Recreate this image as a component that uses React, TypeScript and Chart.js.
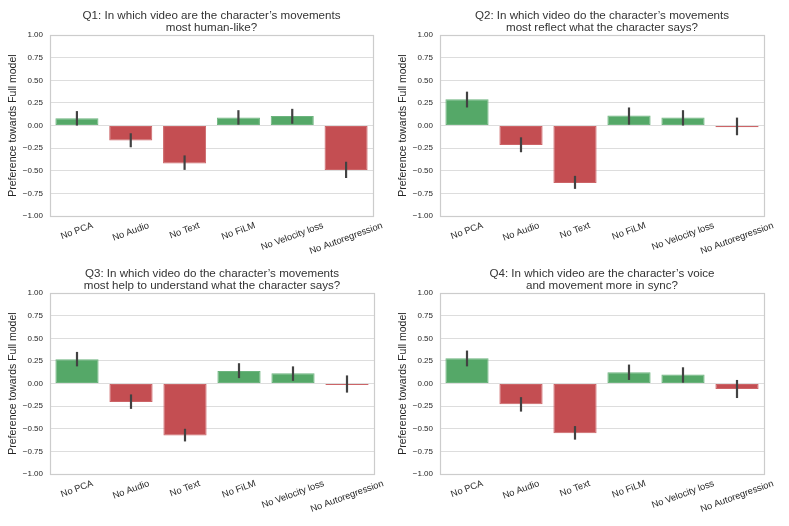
import React, { useEffect, useRef } from 'react';
import { Chart, registerables } from 'chart.js';

Chart.register(...registerables);

const categories = ['No PCA', 'No Audio', 'No Text', 'No FiLM', 'No Velocity loss', 'No Autoregression'];
const yTicks = [-1, -0.75, -0.5, -0.25, 0, 0.25, 0.5, 0.75, 1];

const q1Title = ['Q1: In which video are the character\u2019s movements', 'most human-like?'];
const q1Means = [0.08, -0.165, -0.42, 0.09, 0.105, -0.49];
const q1Low = [0.0, -0.24, -0.49, 0.01, 0.02, -0.58];
const q1High = [0.16, -0.085, -0.33, 0.17, 0.185, -0.4];

const q2Title = ['Q2: In which video do the character\u2019s movements', 'most reflect what the character says?'];
const q2Means = [0.29, -0.215, -0.635, 0.11, 0.09, -0.02];
const q2Low = [0.2, -0.295, -0.7, 0.01, 0.0, -0.107];
const q2High = [0.375, -0.13, -0.556, 0.2, 0.17, 0.088];

const q3Title = ['Q3: In which video do the character\u2019s movements', 'most help to understand what the character says?'];
const q3Means = [0.27, -0.205, -0.575, 0.14, 0.115, -0.015];
const q3Low = [0.19, -0.28, -0.64, 0.06, 0.03, -0.1];
const q3High = [0.35, -0.12, -0.5, 0.225, 0.19, 0.09];

const q4Title = ['Q4: In which video are the character\u2019s voice', 'and movement more in sync?'];
const q4Means = [0.28, -0.23, -0.55, 0.125, 0.1, -0.06];
const q4Low = [0.19, -0.31, -0.62, 0.04, 0.01, -0.16];
const q4High = [0.365, -0.15, -0.47, 0.21, 0.18, 0.04];

const FONT = '"Liberation Sans", Arial, Helvetica, sans-serif';
const TEXT = '#262626';
const GREEN = '#55a868';
const RED = '#c44e52';

interface PanelProps {
  title: string[];
  means: number[];
  low: number[];
  high: number[];
  left: number;
  top: number;
  width: number;
  height: number;
  padRight: number;
  axisHeight: number;
}

function Panel({ title, means, low, high, left, top, width, height, padRight, axisHeight }: PanelProps) {
  const canvasRef = useRef<HTMLCanvasElement | null>(null);

  useEffect(() => {
    const ctx = canvasRef.current;
    if (!ctx) return;

    // frame around the plot area, like the seaborn whitegrid spines
    const framePlugin = {
      id: 'frame',
      beforeDatasetsDraw(chart: any) {
        const { ctx: c, chartArea: a } = chart;
        c.save();
        c.strokeStyle = '#cccccc';
        c.lineWidth = 1.2;
        c.strokeRect(Math.round(a.left) + 0.5, Math.round(a.top) + 0.5, Math.round(a.right - a.left), Math.round(a.bottom - a.top));
        c.restore();
      },
    };

    const errorBarPlugin = {
      id: 'errorBars',
      afterDatasetsDraw(chart: any) {
        const { ctx: c, scales } = chart;
        c.save();
        c.strokeStyle = '#424242';
        c.lineWidth = 2.2;
        low.forEach((lo, i) => {
          const x = scales.x.getPixelForValue(i);
          c.beginPath();
          c.moveTo(x, scales.y.getPixelForValue(lo));
          c.lineTo(x, scales.y.getPixelForValue(high[i]));
          c.stroke();
        });
        c.restore();
      },
    };

    // rotated, centred category labels (matplotlib style)
    const xLabelPlugin = {
      id: 'xLabels',
      afterDraw(chart: any) {
        const { ctx: c, chartArea, scales } = chart;
        const ang = (20 * Math.PI) / 180;
        c.save();
        c.font = `9.3px ${FONT}`;
        c.fillStyle = TEXT;
        c.textAlign = 'center';
        c.textBaseline = 'middle';
        (chart.data.labels as string[]).forEach((label, i) => {
          const w = c.measureText(label).width;
          const bh = w * Math.sin(ang) + 9 * Math.cos(ang);
          const x = scales.x.getPixelForValue(i);
          const y = chartArea.bottom + 5 + bh / 2;
          c.save();
          c.translate(x, y);
          c.rotate(-ang);
          c.fillText(label, 0, 0);
          c.restore();
        });
        c.restore();
      },
    };

    const chart = new Chart(ctx, {
      type: 'bar',
      data: {
        labels: categories,
        datasets: [
          {
            data: means,
            backgroundColor: means.map((v) => (v >= 0 ? GREEN : RED)),
            borderColor: means.map((v) => (v >= 0 ? '#6db47e' : '#cc6467')),
            borderWidth: 1,
            borderSkipped: false,
            barPercentage: 0.8,
            categoryPercentage: 1,
          },
        ],
      },
      options: {
        animation: false,
        responsive: true,
        maintainAspectRatio: false,
        layout: { padding: { top: 0, right: padRight, bottom: 0, left: 0 } },
        plugins: {
          legend: { display: false },
          tooltip: { enabled: false },
          title: {
            display: true,
            text: title,
            fullSize: false,
            color: '#333333',
            font: { family: FONT, size: 11.6, weight: 'normal', lineHeight: 1.04 },
            padding: { top: 9.5, bottom: 1.5 },
          },
        },
        scales: {
          x: {
            type: 'category',
            grid: { display: false },
            border: { display: false },
            ticks: { display: false },
            afterFit: (s: any) => {
              s.height = axisHeight;
            },
          },
          y: {
            min: -1,
            max: 1,
            afterBuildTicks: (s: any) => {
              s.ticks = yTicks.map((v) => ({ value: v }));
            },
            afterFit: (s: any) => {
              s.width = 50;
            },
            grid: { color: '#dddddd', lineWidth: 1, drawTicks: false },
            border: { display: false },
            ticks: {
              padding: 7,
              color: TEXT,
              font: { family: FONT, size: 8 },
              callback: (v: any) => {
                const n = Number(v);
                return (n < 0 ? '\u2212' : '') + Math.abs(n).toFixed(2);
              },
            },
            title: {
              display: true,
              text: 'Preference towards Full model',
              color: TEXT,
              font: { family: FONT, size: 10.5, lineHeight: 1.2 },
              padding: { top: 7, bottom: 0 },
            },
          },
        },
      },
      plugins: [framePlugin, errorBarPlugin, xLabelPlugin],
    });

    return () => {
      chart.destroy();
    };
  }, []);

  return (
    <div style={{ position: 'absolute', left, top, width, height }}>
      <canvas ref={canvasRef}></canvas>
    </div>
  );
}

export default function App() {
  return (
    <div style={{ position: 'fixed', left: 0, top: 0, width: 789, height: 526, background: '#ffffff' }}>
      <Panel title={q1Title} means={q1Means} low={q1Low} high={q1High} left={0} top={0} width={390} height={258} padRight={17} axisHeight={42} />
      <Panel title={q2Title} means={q2Means} low={q2Low} high={q2High} left={390} top={0} width={399} height={258} padRight={25} axisHeight={42} />
      <Panel title={q3Title} means={q3Means} low={q3Low} high={q3High} left={0} top={258} width={390} height={268} padRight={16} axisHeight={52} />
      <Panel title={q4Title} means={q4Means} low={q4Low} high={q4High} left={390} top={258} width={399} height={268} padRight={25} axisHeight={52} />
    </div>
  );
}
